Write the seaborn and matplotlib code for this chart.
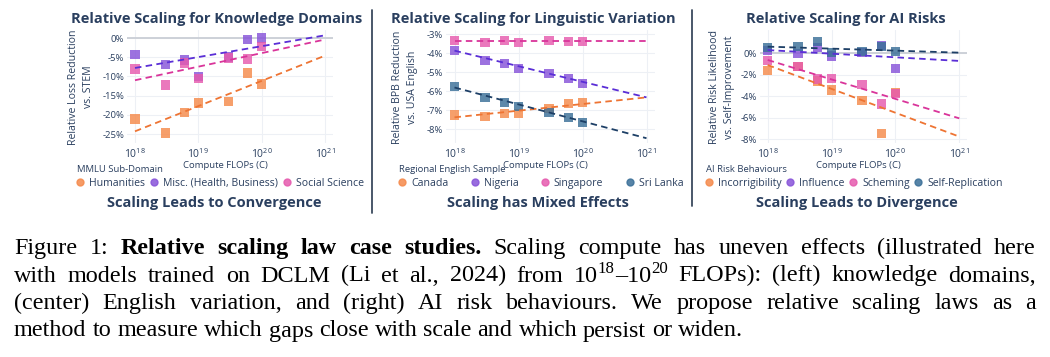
import re
import matplotlib
matplotlib.use("Agg")
import matplotlib.pyplot as plt
import matplotlib.ticker as mticker
from matplotlib.lines import Line2D
import numpy as np
import pandas as pd
import seaborn as sns

sns.set_theme(style="white")
plt.rcParams["font.family"] = ["Open Sans", "DejaVu Sans"]
plt.rcParams["mathtext.fontset"] = "custom"
plt.rcParams["mathtext.rm"] = "Open Sans"
plt.rcParams["mathtext.it"] = "Open Sans"

W, H = 1050, 357
INK = "#2a3f5f"

# ---- data ----
compute = [1e18, 3e18, 6e18, 1e19, 3e19, 6e19, 1e20]
fit_compute = [1e18, 1e21]

# left: knowledge domains, relative loss reduction vs. STEM (%)
domains = ["Humanities", "Misc. (Health, Business)", "Social Science"]
humanities = [-21.1, -24.7, -19.4, -16.9, -16.5, -9.1, -12.0]
misc = [-4.3, -6.9, -5.7, -10.0, -4.9, -0.4, 0.0]
social = [-8.1, -12.2, -6.5, -10.6, -5.2, -5.5, -2.2]
humanities_fit = [-24.3, -4.6]
misc_fit = [-7.8, 0.7]
social_fit = [-11.0, -0.4]

# center: regional English, relative BPB reduction vs. USA English (%)
regions = ["Canada", "Nigeria", "Singapore", "Sri Lanka"]
canada = [-7.25, -7.32, -7.16, -7.18, -6.91, -6.63, -6.58]
nigeria = [-3.86, -4.37, -4.54, -4.79, -5.05, -5.33, -5.58]
singapore = [-3.33, -3.42, -3.33, -3.42, -3.33, -3.37, -3.37]
srilanka = [-5.75, -6.32, -6.60, -6.81, -7.12, -7.39, -7.65]
canada_fit = [-7.37, -6.32]
nigeria_fit = [-3.86, -6.32]
singapore_fit = [-3.37, -3.37]
srilanka_fit = [-5.80, -8.47]

# right: AI risk behaviours, relative risk likelihood vs. self-improvement (%)
risks = ["Incorrigibility", "Influence", "Scheming", "Self-Replication"]
incorrigibility = [-1.58, -1.24, -2.57, -3.41, -4.40, -7.44, -3.66]
influence = [0.25, 0.0, 0.56, -0.25, 0.06, 0.71, -1.40]
scheming = [-0.68, -1.24, -2.39, -2.33, -2.91, -4.71, -3.72]
selfrep = [0.53, 0.62, 1.09, 0.06, 0.16, 0.62, 0.16]
incorrigibility_fit = [-1.09, -7.75]
influence_fit = [0.30, -0.71]
scheming_fit = [-0.62, -6.05]
selfrep_fit = [0.62, 0.06]

point_colors = ["#F58A4B", "#8753D9", "#E65AAE", "#3A6F98"]
line_colors = ["#EE7433", "#5A2ED6", "#D9349A", "#1D3F66"]


def long_df(names, series, xs):
    rows = []
    for name, vals in zip(names, series):
        for x, v in zip(xs, vals):
            rows.append({"compute": x, "value": v, "series": name})
    return pd.DataFrame(rows)


fig = plt.figure(figsize=(W / 100, H / 100), dpi=100)


def px_axes(x0, y0, x1, y1):
    return fig.add_axes([x0 / W, 1 - y1 / H, (x1 - x0) / W, (y1 - y0) / H])


def panel(box, p18, p21, yref, names, series, fits, colors, lcolors,
          yticks, zero, title, ylabel, label_x, subtitle, leg_title,
          leg_x, leg_spacing):
    x0, y0, x1, y1 = box
    ax = px_axes(x0, y0, x1, y1)
    pts = long_df(names, series, compute)
    fit = long_df(names, fits, fit_compute)
    pal = dict(zip(names, colors))
    lpal = dict(zip(names, lcolors))

    ax.grid(True, which="major", color="#edf0f5", lw=0.8, zorder=0)
    if zero:
        ax.axhline(0, color="#cdd1d8", lw=1.4, zorder=1)
    sns.scatterplot(data=pts, x="compute", y="value", hue="series",
                    palette=pal, marker="s", s=46, alpha=0.82,
                    linewidth=0, legend=False, ax=ax, zorder=3)
    n_before = len(ax.lines)
    sns.lineplot(data=fit, x="compute", y="value", hue="series",
                 palette=lpal, lw=1.3, legend=False, ax=ax, zorder=4)
    for ln in ax.lines[n_before:]:
        ln.set_dashes([3.6, 2.4])

    ax.set_xscale("log")
    dec = (p21 - p18) / 3
    ax.set_xlim(10 ** (18 - (p18 - x0) / dec), 10 ** (21 + (x1 - p21) / dec))
    (pa, va), (pb, vb) = yref
    per = (pb - pa) / (va - vb)
    ax.set_ylim(va - (y1 - pa) / per, va + (pa - y0) / per)

    ax.xaxis.set_major_locator(mticker.FixedLocator([1e18, 1e19, 1e20, 1e21]))
    ax.xaxis.set_minor_locator(mticker.NullLocator())
    ax.set_xticklabels([r"$10^{18}$", r"$10^{19}$", r"$10^{20}$", r"$10^{21}$"])
    ax.set_yticks(yticks)
    ax.set_yticklabels([f"{v:g}%" for v in yticks])
    ax.tick_params(axis="y", length=0, pad=2, labelsize=6.8, labelcolor=INK)
    ax.tick_params(axis="x", length=0, pad=3, labelsize=7.5, labelcolor=INK)
    for s in ax.spines.values():
        s.set_visible(False)
    ax.set_xlabel("")
    ax.set_ylabel("")

    cx = (x0 + x1) / 2
    fig.text(title[1] / W, 1 - 19 / H, title[0], ha="center", va="center",
             fontsize=10.5, weight="bold", color=INK)
    fig.text(label_x / W, 1 - 87 / H, ylabel, ha="center", va="center",
             rotation=90, fontsize=7.6, color=INK, linespacing=1.45)
    fig.text((cx - 5) / W, 1 - 165.5 / H, "Compute FLOPs (C)", ha="center",
             va="center", fontsize=6.8, color=INK)
    fig.text(subtitle[1] / W, 1 - 203 / H, subtitle[0], ha="center",
             va="center", fontsize=10.5, weight="bold", color=INK)
    fig.text(leg_x / W, 1 - 169 / H, leg_title, ha="left", va="center",
             fontsize=6.8, color=INK)
    handles = [Line2D([], [], ls="", marker="o", markersize=5,
                      color=c, alpha=0.85) for c in colors]
    fig.legend(handles, names, loc="center left",
               bbox_to_anchor=(leg_x / W, 1 - 183.5 / H), ncol=len(names),
               frameon=False, fontsize=7.6, handlelength=0.6,
               handletextpad=0.55, columnspacing=leg_spacing, borderpad=0,
               borderaxespad=0, labelcolor=INK)
    return ax


panel((127, 30, 333, 143), 135, 325, ((38, 0), (134, -25)),
      domains, [humanities, misc, social],
      [humanities_fit, misc_fit, social_fit],
      [point_colors[0], point_colors[1], point_colors[2]],
      [line_colors[0], line_colors[1], line_colors[2]],
      [0, -5, -10, -15, -20, -25], True,
      ("Relative Scaling for Knowledge Domains", 217),
      "Relative Loss Reduction\nvs. STEM", 81,
      ("Scaling Leads to Convergence", 214), "MMLU Sub-Domain", 77, 0.55)

panel((446, 30, 655, 143), 454.5, 646.5, ((34.3, -3), (129.3, -8)),
      regions, [canada, nigeria, singapore, srilanka],
      [canada_fit, nigeria_fit, singapore_fit, srilanka_fit],
      point_colors, line_colors,
      [-3, -4, -5, -6, -7, -8], False,
      ("Relative Scaling for Linguistic Variation", 533),
      "Relative BPB Reduction\nvs. USA English", 405,
      ("Scaling has Mixed Effects", 538), "Regional English Sample", 399,
      2.2)

panel((760, 30, 967, 143), 767.7, 959.3, ((53.3, 0), (139.3, -8)),
      risks, [incorrigibility, influence, scheming, selfrep],
      [incorrigibility_fit, influence_fit, scheming_fit, selfrep_fit],
      point_colors, line_colors,
      [0, -2, -4, -6, -8], True,
      ("Relative Scaling for AI Risks", 846),
      "Relative Risk Likelihood\nvs. Self-Improvement", 722,
      ("Scaling Leads to Divergence", 857), "AI Risk Behaviours", 706, 0.5)

# panel separators
for sx, top, bot in [(372, 10, 213), (692, 10, 206)]:
    fig.add_artist(Line2D([sx / W, sx / W], [1 - top / H, 1 - bot / H],
                          color="#3b4a5e", lw=1.3))

# ---- caption, justified like the paper ----
caption = [
    "Figure 1: **Relative scaling law case studies.** Scaling compute has uneven effects (illustrated here",
    "with models trained on DCLM (Li et al., 2024) from 10^{18}–10^{20} FLOPs): (left) knowledge domains,",
    "(center) English variation, and (right) AI risk behaviours. We propose relative scaling laws as a",
    "method to measure which gaps close with scale and which persist or widen.",
]
baselines = [254, 281.5, 309, 336.5]
CAP_FS = 17.4
SERIF = ["Liberation Serif", "DejaVu Serif"]
X0, X1 = 14, 1036


def parse_words(line, state):
    words = []
    for w in line.split():
        runs = []
        for part in re.split(r"(\*\*|\^\{[^}]*\})", w):
            if part == "**":
                state["bold"] = not state["bold"]
                continue
            if not part:
                continue
            if part.startswith("^{"):
                runs.append((part[2:-1], "sup"))
            else:
                runs.append((part, "b" if state["bold"] else "r"))
        words.append(runs)
    return words


def style_kw(st):
    if st == "sup":
        return dict(fontsize=CAP_FS * 0.7, weight="normal")
    return dict(fontsize=CAP_FS, weight="bold" if st == "b" else "normal")


fig.canvas.draw()
renderer = fig.canvas.get_renderer()


def width(txt, st):
    t = fig.text(0, 0, txt, family=SERIF, **style_kw(st))
    w = t.get_window_extent(renderer).width
    t.remove()
    return w


space_w = width("a a", "r") - width("aa", "r")
state = {"bold": False}
for i, (line, yb) in enumerate(zip(caption, baselines)):
    words = parse_words(line, state)
    widths = [[width(t, st) for t, st in w] for w in words]
    total = sum(sum(ws) for ws in widths)
    last = i == len(caption) - 1
    gap = space_w if last else (X1 - X0 - total) / (len(words) - 1)
    x = X0
    for runs, ws in zip(words, widths):
        for (t, st), rw in zip(runs, ws):
            y = yb - (8.5 if st == "sup" else 0)
            fig.text(x / W, 1 - y / H, t, ha="left", va="baseline",
                     family=SERIF, color="black", **style_kw(st))
            x += rw
        x += gap

fig.savefig("out.png", dpi=100)
